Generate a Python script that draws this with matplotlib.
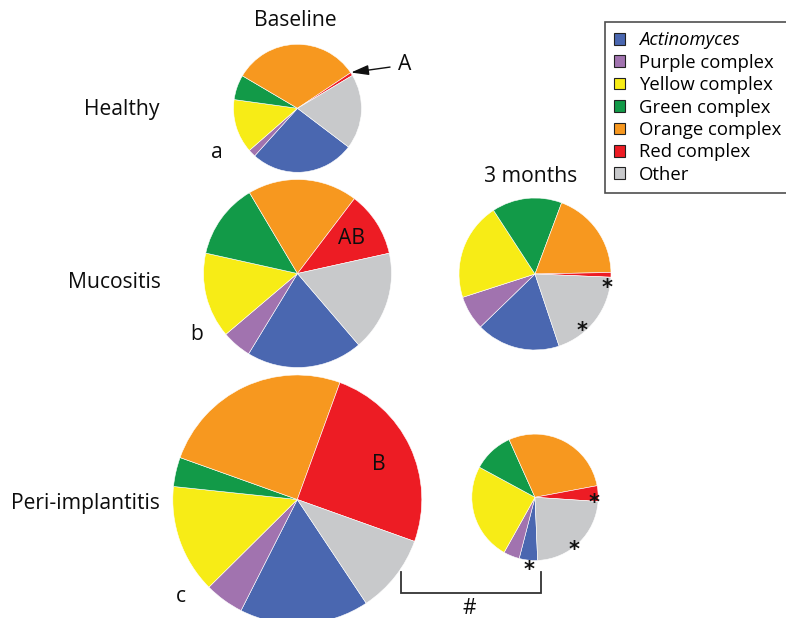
import matplotlib
matplotlib.use("Agg")
import matplotlib.pyplot as plt
from matplotlib.patches import Rectangle

# Category order (clockwise from Actinomyces) and colours
categories = ["Actinomyces", "Purple complex", "Yellow complex", "Green complex",
              "Orange complex", "Red complex", "Other"]
colors = ["#4A67B0", "#A173AF", "#F7EC16", "#129A48", "#F7981F", "#ED1C24", "#C8C9CB"]

# Mean relative abundance (%) per group
healthy_baseline = [26.3, 1.9, 13.6, 6.3, 32.1, 0.8, 18.9]
mucositis_baseline = [20.0, 5.1, 14.7, 13.0, 18.9, 11.2, 17.2]
mucositis_3m = [17.9, 7.3, 20.8, 14.9, 19.0, 1.0, 19.2]
periimpl_baseline = [16.8, 5.1, 14.1, 3.8, 25.1, 24.9, 10.2]
periimpl_3m = [4.7, 4.1, 24.8, 10.4, 28.8, 4.0, 23.3]

W, H = 786, 618
fig = plt.figure(figsize=(W / 100, H / 100), dpi=100)
ax = fig.add_axes([0, 0, 1, 1])

FONT = ["Open Sans", "DejaVu Sans"]


def Y(y):
    return H - y


# (values, centre x, centre y, radius, start angle)
pies = [
    (healthy_baseline, 297.5, 108.3, 64.0, 322.8),
    (mucositis_baseline, 297.5, 273.5, 94.0, 310.6),
    (mucositis_3m, 535.0, 274.0, 76.0, 288.5),
    (periimpl_baseline, 297.3, 499.5, 124.5, 303.6),
    (periimpl_3m, 535.0, 497.3, 63.2, 272.4),
]
for vals, cx, cy, r, start in pies:
    ax.pie(vals, colors=colors, startangle=start, counterclock=False,
           radius=r, center=(cx, Y(cy)), frame=True,
           wedgeprops=dict(linewidth=0.4, edgecolor="white"))

ax.set_xlim(0, W)
ax.set_ylim(0, H)
ax.set_aspect("equal")
ax.axis("off")

tk = dict(family=FONT, fontsize=15.2, color="#0d0d0d", ha="center", va="center")
ax.text(295, Y(21), "Baseline", **tk)
ax.text(531, Y(176), "3 months", **tk)
ax.text(121.5, Y(109), "Healthy", **tk)
ax.text(114, Y(283), "Mucositis", **tk)
ax.text(85, Y(504), "Peri-implantitis", **tk)
ax.text(217, Y(152), "a", **tk)
ax.text(197, Y(334), "b", **tk)
ax.text(181, Y(596), "c", **tk)
ax.text(352, Y(239), "AB", **tk)
ax.text(378.5, Y(464), "B", **tk)
ax.text(469, Y(609), "#", **tk)

ax.annotate("A", xy=(351, Y(72.5)), xytext=(405, Y(65)),
            family=FONT, fontsize=15.2, color="#0d0d0d", ha="center", va="center",
            arrowprops=dict(arrowstyle="-|>,head_length=0.7,head_width=0.2",
                            color="#111111", lw=1.0, shrinkA=4, shrinkB=0))

# Significance asterisks
em = 15 * 100 / 72
for sx, sy in [(607.3, 282), (581.7, 324.5), (594, 496.5), (574.3, 543), (529, 563)]:
    ax.text(sx, Y(sy + 0.6 * em), "*", family="DejaVu Sans", fontsize=15,
            fontweight="bold", color="#111111", ha="center", va="baseline")

# Bracket between peri-implantitis baseline and 3 months
ax.plot([400.7, 400.7, 541.3, 541.3], [Y(571.7), Y(592.7), Y(592.7), Y(571.7)],
        color="#333333", lw=1.3, solid_joinstyle="miter")

handles = [Rectangle((0, 0), 1, 1, facecolor=c, edgecolor="#222222", linewidth=0.8)
           for c in colors]
leg = ax.legend(handles, categories, loc="upper left",
                bbox_to_anchor=(605 / W, 1 - 22 / H), bbox_transform=ax.transAxes,
                borderaxespad=0, fancybox=False, frameon=True,
                prop=dict(family=FONT, size=13.3),
                handlelength=0.6, handleheight=0.6, handletextpad=0.75,
                labelspacing=0.24, borderpad=0.5)
leg.get_frame().set_edgecolor("#222222")
leg.get_frame().set_linewidth(1.2)
leg.get_texts()[0].set_style("italic")

fig.savefig("out.png", dpi=100)
